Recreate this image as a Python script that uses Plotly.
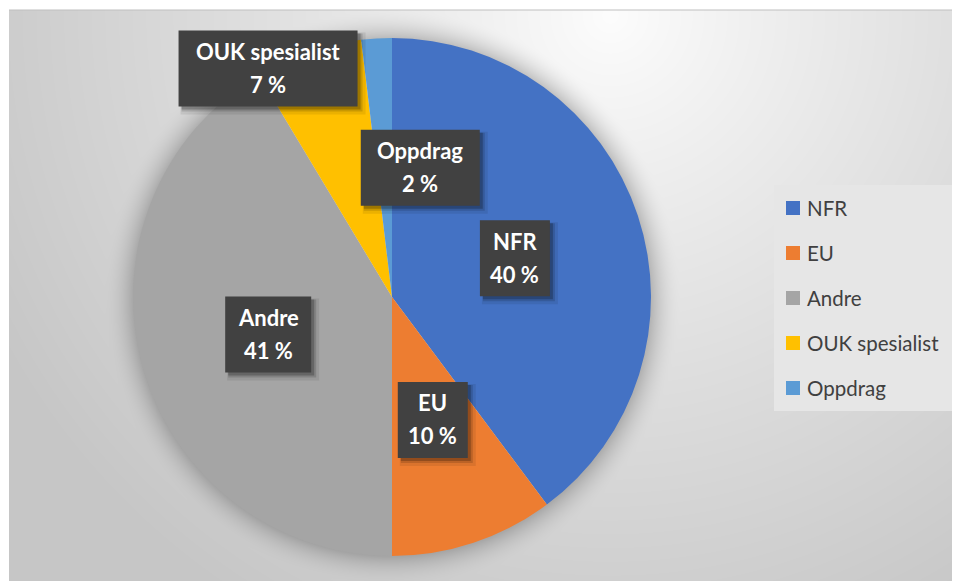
import base64
import math
import struct
import zlib

import numpy as np
import plotly.graph_objects as go

# ---------------- data ----------------
categories = ["NFR", "EU", "Andre", "OUK spesialist", "Oppdrag"]
values = [39.8, 10.2, 41.4, 6.7, 1.9]
colors = ["#4472C4", "#ED7D31", "#A5A5A5", "#FFC000", "#5B9BD5"]

# ---------------- layout parameters ----------------
PAGE_OFF = 8                                    # default body margin of the page
W, H = 960 - PAGE_OFF, 581 - PAGE_OFF           # figure size
PIE_CX, PIE_CY, PIE_R = 392, 297, 259          # pixel centre / radius (screen coords)
FRAME_X0, FRAME_Y0 = 9, 10                      # chart area top-left corner (screen)
LABEL_K = 0.5                                   # radial position of data labels
LABEL_NUDGE = [(0, 2), (0, 0), (1, 3), (-82, -106), (36, 0)]
BOX_W = [70, 70, 86, 179, 119]
BOX_H = 76
LABEL_FONT = dict(family="Lato, 'Open Sans', sans-serif", size=22, color="white")
LEG_X0, LEG_X1, LEG_Y0, LEG_Y1 = 774, 955, 185, 411
LEG_FIRST_Y, LEG_STEP = 208, 45


def px(x):
    return (x - PAGE_OFF) / W


def py(y):
    return 1 - (y - PAGE_OFF) / H


# ---------------- background gradient image (with pie glow) ----------------
def make_png(gray):
    h, w = gray.shape
    raw = b"".join(b"\x00" + gray[i].tobytes() for i in range(h))

    def chunk(tag, data):
        c = struct.pack(">I", len(data)) + tag + data
        return c + struct.pack(">I", zlib.crc32(tag + data) & 0xFFFFFFFF)

    return (b"\x89PNG\r\n\x1a\n"
            + chunk(b"IHDR", struct.pack(">IIBBBBB", w, h, 8, 0, 0, 0, 0))
            + chunk(b"IDAT", zlib.compress(raw, 9))
            + chunk(b"IEND", b""))


bw, bh = 960 - FRAME_X0, 581 - FRAME_Y0
yy, xx = np.mgrid[0:bh, 0:bw].astype(float)
ax = xx + FRAME_X0
ay = yy + FRAME_Y0
d = np.hypot(ax - 610, ay - 15)
v = 253 - 55 * (d / 700) ** 0.9
v = np.maximum(v, 198)
dc = np.hypot(ax - PIE_CX, ay - PIE_CY) - PIE_R
glow = np.where((dc > -2) & (dc < 30), 0.2 * np.clip(1 - dc / 30, 0, 1) ** 2, 0)
v = v * (1 - glow)
gray = np.clip(v, 0, 255).astype(np.uint8)
bg_uri = "data:image/png;base64," + base64.b64encode(make_png(gray)).decode()

# ---------------- figure ----------------
fig = go.Figure()
fig.add_trace(go.Pie(
    labels=categories,
    values=values,
    sort=False,
    direction="clockwise",
    rotation=0,
    marker=dict(colors=colors, line=dict(width=0)),
    textinfo="none",
    hoverinfo="label+percent",
    showlegend=False,
    domain=dict(x=[px(PIE_CX - PIE_R), px(PIE_CX + PIE_R)],
                y=[py(PIE_CY + PIE_R), py(PIE_CY - PIE_R)]),
))

shapes = []
annotations = []

# top border of chart area
shapes.append(dict(type="line", xref="paper", yref="paper",
                   x0=px(FRAME_X0), x1=1, y0=py(FRAME_Y0), y1=py(FRAME_Y0),
                   line=dict(color="#BFBFBF", width=1)))

# data labels
total = sum(values)
cum = 0
for i, (cat, val) in enumerate(zip(categories, values)):
    theta = 2 * math.pi * (cum + val / 2) / total
    cum += val
    cx = PIE_CX + LABEL_K * PIE_R * math.sin(theta) + LABEL_NUDGE[i][0]
    cy = PIE_CY - LABEL_K * PIE_R * math.cos(theta) + LABEL_NUDGE[i][1]
    bwid = BOX_W[i]
    x0, x1 = cx - bwid / 2, cx + bwid / 2
    y0, y1 = cy - BOX_H / 2, cy + BOX_H / 2
    # soft shadow
    for off, grow, alpha in [(5, 3, 0.08), (4, 1, 0.14), (3, 0, 0.22)]:
        shapes.append(dict(type="rect", xref="paper", yref="paper",
                           x0=px(x0 + off - grow), x1=px(x1 + off + grow),
                           y0=py(y0 + off - grow), y1=py(y1 + off + grow),
                           fillcolor=f"rgba(0,0,0,{alpha})", line=dict(width=0)))
    shapes.append(dict(type="rect", xref="paper", yref="paper",
                       x0=px(x0), x1=px(x1), y0=py(y0), y1=py(y1),
                       fillcolor="#414141", line=dict(width=0)))
    annotations.append(dict(xref="paper", yref="paper", x=px(cx), y=py(cy - 17),
                            text=f"<b>{cat}</b>", showarrow=False,
                            xanchor="center", yanchor="middle", font=LABEL_FONT))
    annotations.append(dict(xref="paper", yref="paper", x=px(cx), y=py(cy + 16),
                            text=f"<b>{round(val)} %</b>", showarrow=False,
                            xanchor="center", yanchor="middle", font=LABEL_FONT))

# legend (drawn manually)
shapes.append(dict(type="rect", xref="paper", yref="paper",
                   x0=px(LEG_X0), x1=px(LEG_X1), y0=py(LEG_Y1), y1=py(LEG_Y0),
                   fillcolor="#E6E6E6", line=dict(width=0), layer="below"))
for i, (cat, col) in enumerate(zip(categories, colors)):
    yc = LEG_FIRST_Y + LEG_STEP * i
    shapes.append(dict(type="rect", xref="paper", yref="paper",
                       x0=px(786), x1=px(800), y0=py(yc + 7), y1=py(yc - 7),
                       fillcolor=col, line=dict(width=0)))
    annotations.append(dict(xref="paper", yref="paper", x=px(805), y=py(yc),
                            text=cat, showarrow=False, xanchor="left", yanchor="middle",
                            font=dict(family="Lato, 'Open Sans', sans-serif", size=20.5,
                                      color="#404040")))

fig.update_layout(
    width=W, height=H,
    margin=dict(l=0, r=0, t=0, b=0),
    paper_bgcolor="white",
    plot_bgcolor="white",
    showlegend=False,
    shapes=shapes,
    annotations=annotations,
    images=[dict(source=bg_uri, xref="paper", yref="paper",
                 x=px(FRAME_X0), y=py(FRAME_Y0), sizex=bw / W, sizey=bh / H,
                 xanchor="left", yanchor="top", sizing="stretch", layer="below")],
)

fig.write_html("out.html")
